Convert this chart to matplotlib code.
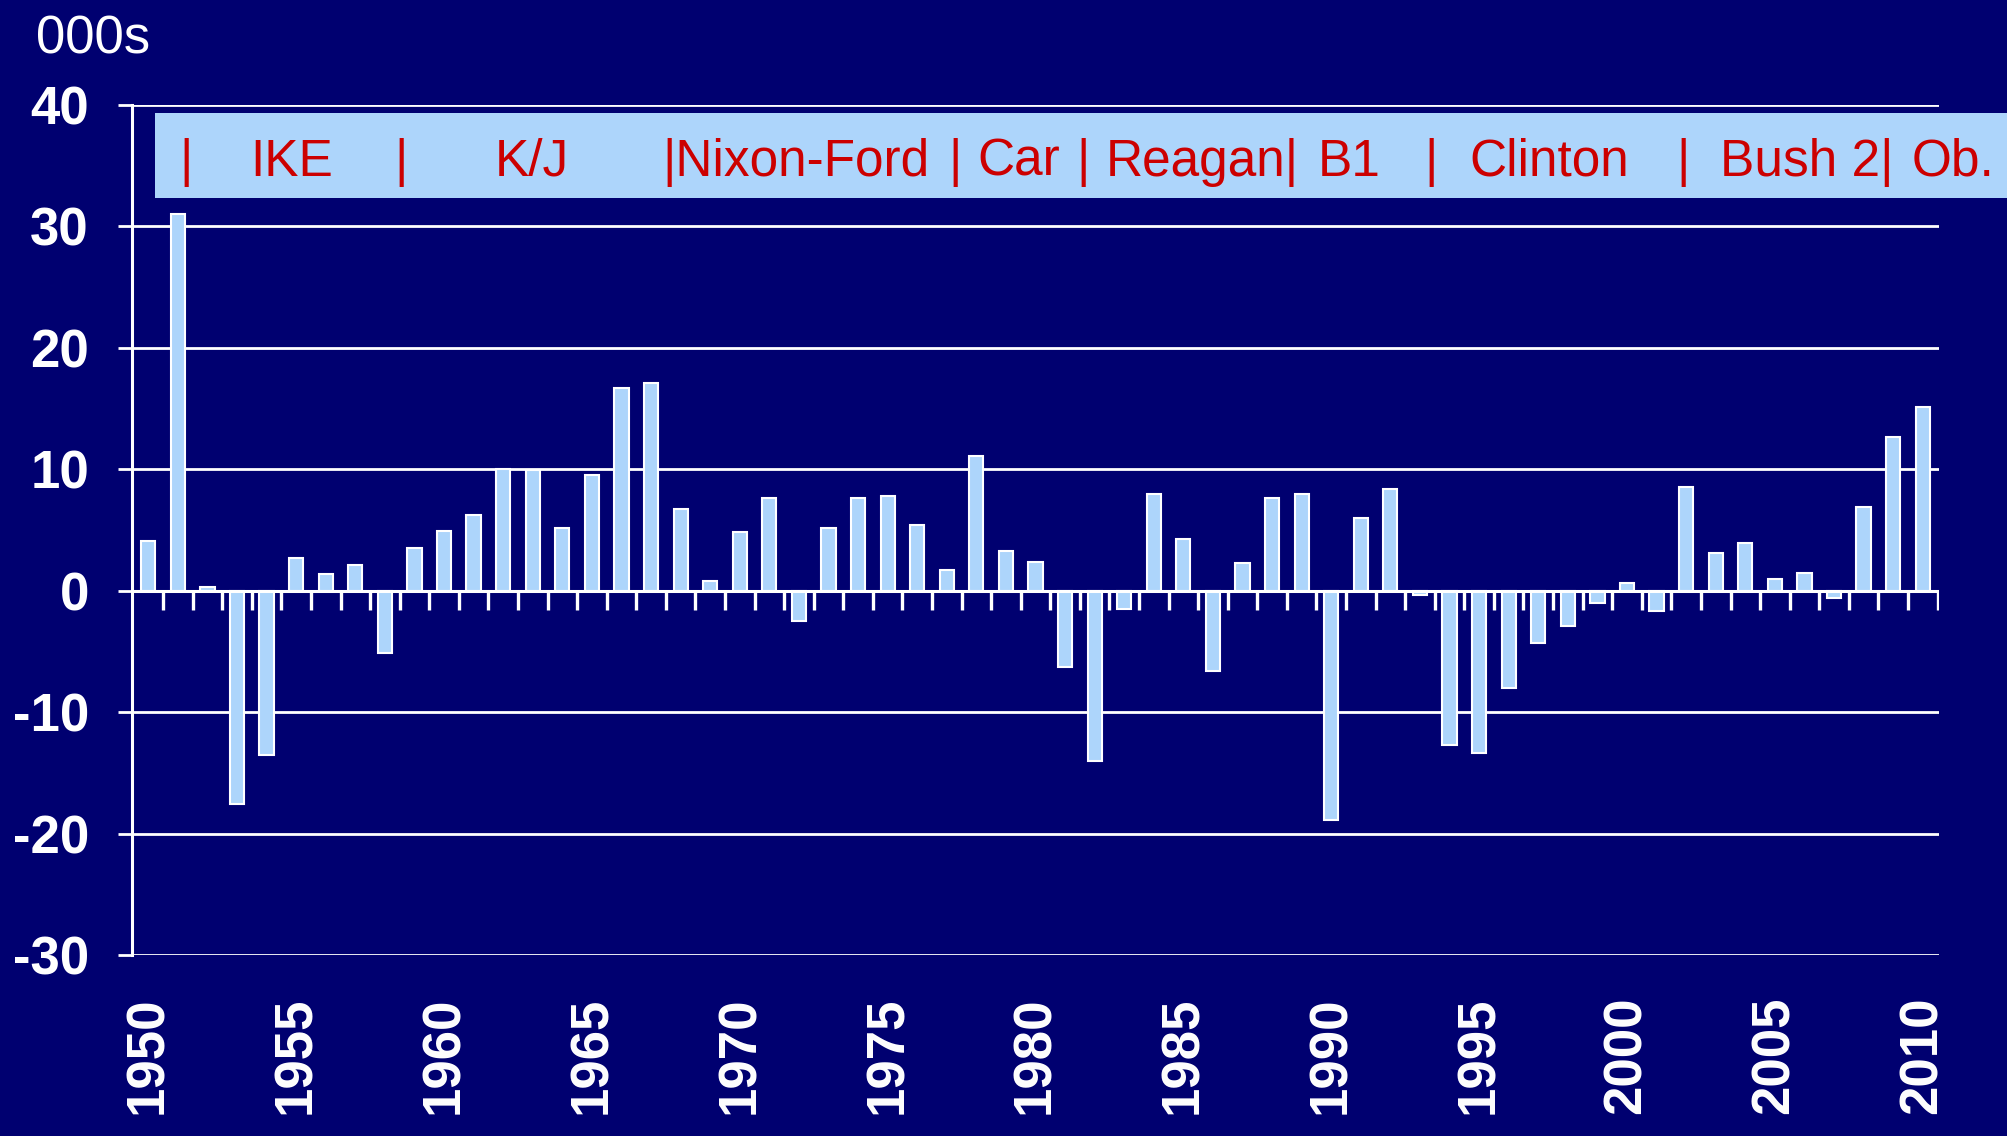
import matplotlib
matplotlib.use("Agg")
import matplotlib.pyplot as plt
from matplotlib.patches import Rectangle
import numpy as np

years = list(range(1950, 2011))
values = [4.1, 31.0, 0.3, -17.6, -13.5, 2.7, 1.4, 2.1, -5.1, 3.5,
          4.9, 6.2, 10.0, 9.9, 5.2, 9.5, 16.7, 17.1, 6.7, 0.8,
          4.8, 7.6, -2.5, 5.2, 7.6, 7.8, 5.4, 1.7, 11.1, 3.3,
          2.4, -6.3, -14.0, -1.5, 8.0, 4.3, -6.6, 2.3, 7.6, 8.0,
          -18.9, 6.0, 8.4, -0.35, -12.7, -13.4, -8.0, -4.3, -2.9, -1.0,
          0.6, -1.7, 8.5, 3.1, 3.9, 1.0, 1.5, -0.6, 6.9, 12.7, 15.1]
y_ticks = [-30, -20, -10, 0, 10, 20, 30, 40]
x_tick_years = list(range(1950, 2011, 5))
banner_labels = ["|", "IKE", "|", "K/J", "|Nixon-Ford", "|", "Car", "|", "Reagan|",
                 "B1", "|", "Clinton", "|", "Bush 2|", "Ob."]
unit_label = "000s"

# layout (pixels in 2007x1136 figure)
banner_x_px = [186, 250, 401, 495, 662, 955, 977, 1083, 1106, 1318, 1431, 1469, 1683, 1720, 1912]
banner_ha = ["center", "left", "center", "left", "left", "center", "left", "center", "left",
             "left", "center", "left", "center", "left", "left"]

W, H = 2007, 1136
BG = "#000070"
BAR = "#ADD5FB"
RED = "#CC0000"

plt.rcParams['font.family'] = ['Liberation Sans', 'DejaVu Sans']
fig = plt.figure(figsize=(W / 100, H / 100), dpi=100, facecolor=BG)
ax = fig.add_axes([132 / W, 1 - 955 / H, (1939 - 132) / W, (955 - 105) / H])
ax.set_facecolor(BG)

ax.set_ylim(-30, 40)
ax.set_xlim(1949.45, 2010.55)

# gridlines
for t in y_ticks:
    ax.axhline(t, color="white", lw=2.0, zorder=1)

ax.bar(years, values, width=0.48, color=BAR, edgecolor="white", linewidth=1.5, zorder=3)

# zero-line category separators
bounds = np.arange(1950.5, 2011, 1.0)
ax.vlines(bounds, -1.55, 0, color="white", lw=2.4, zorder=2)
ax.axhline(0, color="white", lw=2.2, zorder=4)

# spines
for s in ["top", "right", "bottom"]:
    ax.spines[s].set_visible(False)
ax.spines["left"].set_color("white")
ax.spines["left"].set_linewidth(2.2)

ax.set_yticks(y_ticks)
ax.set_yticklabels([str(t) for t in y_ticks], fontsize=38, fontweight="bold", color="white")
ax.tick_params(axis="y", direction="out", length=10, width=2, color="white", pad=21)

ax.set_xticks(x_tick_years)
ax.set_xticklabels([str(y) for y in x_tick_years], rotation=90, fontsize=38,
                   fontweight="bold", color="white")
ax.tick_params(axis="x", length=0, pad=30)

# unit label
fig.text(36 / W, 1 - 54 / H, unit_label, fontsize=38, color="white", ha="left", va="baseline")

# banner
fig.add_artist(Rectangle((155 / W, 1 - 198 / H), (W - 155) / W + 0.01, 85 / H,
                         transform=fig.transFigure, facecolor=BAR, edgecolor="none", zorder=5))
for lab, xp, ha in zip(banner_labels, banner_x_px, banner_ha):
    fig.text(xp / W, 1 - 176 / H, lab, fontsize=37, color=RED, ha=ha, va="baseline", zorder=6)

fig.savefig("out.png", dpi=100, facecolor=BG)
